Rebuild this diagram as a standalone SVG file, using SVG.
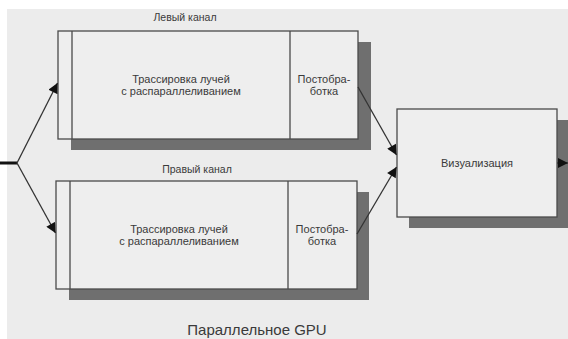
<svg xmlns="http://www.w3.org/2000/svg" width="568" height="339" viewBox="0 0 568 339">
<defs>
<style>
.bg{fill:#ececec}
.shadow{fill:#6f6f6f}
.box{fill:#eeeeee;stroke:#4a4a4a;stroke-width:1.3}
.div{stroke:#4a4a4a;stroke-width:1.3}
.lbl{font-family:"Liberation Sans",Arial,sans-serif;font-size:11px;fill:#3a3a3a;text-anchor:middle}
.small{font-family:"Liberation Sans",Arial,sans-serif;font-size:10.5px;fill:#3a3a3a;text-anchor:middle}
.title{font-family:"Liberation Sans",Arial,sans-serif;font-size:15px;fill:#3a3a3a;text-anchor:middle}
.conn{stroke:#333;stroke-width:1.3;fill:none}
</style>
<marker id="ah" viewBox="0 0 10 10" refX="10" refY="5" markerWidth="11" markerHeight="10" markerUnits="userSpaceOnUse" orient="auto">
<path d="M0,0 L10,5 L0,10 z" fill="#111"/>
</marker>
</defs>
<rect x="0" y="0" width="568" height="339" fill="#ffffff"/>
<rect class="bg" x="7" y="9" width="561" height="330"/>

<g id="left-channel">
<rect class="shadow" x="71" y="42" width="300" height="108"/>
<rect class="box" x="58" y="31" width="300" height="108"/>
<line class="div" x1="72" y1="31" x2="72" y2="139"/>
<line class="div" x1="290" y1="31" x2="290" y2="139"/>
<text class="small" x="185" y="21">Левый канал</text>
<text class="lbl" x="181" y="83">Трассировка лучей</text>
<text class="lbl" x="181" y="95">с распараллеливанием</text>
<text class="lbl" x="324" y="83">Постобра-</text>
<text class="lbl" x="324" y="95">ботка</text>
</g>

<g id="right-channel">
<rect class="shadow" x="69" y="192" width="300" height="108"/>
<rect class="box" x="56" y="181" width="301" height="108"/>
<line class="div" x1="70" y1="181" x2="70" y2="289"/>
<line class="div" x1="288" y1="181" x2="288" y2="289"/>
<text class="small" x="197" y="173">Правый канал</text>
<text class="lbl" x="179" y="233">Трассировка лучей</text>
<text class="lbl" x="179" y="245">с распараллеливанием</text>
<text class="lbl" x="322" y="233">Постобра-</text>
<text class="lbl" x="322" y="245">ботка</text>
</g>

<g id="visualization">
<rect class="shadow" x="409" y="120" width="160" height="108"/>
<rect class="box" x="397" y="109" width="160" height="108"/>
<text class="lbl" x="477" y="167">Визуализация</text>
</g>

<g id="connectors">
<line x1="0" y1="163" x2="17" y2="163" stroke="#111" stroke-width="3"/>
<line class="conn" x1="17" y1="163" x2="57.5" y2="83" marker-end="url(#ah)"/>
<line class="conn" x1="17" y1="163" x2="55.5" y2="233" marker-end="url(#ah)"/>
<line class="conn" x1="358" y1="87" x2="396.5" y2="155" marker-end="url(#ah)"/>
<line class="conn" x1="357" y1="234" x2="396.5" y2="167" marker-end="url(#ah)"/>
<line class="conn" x1="557" y1="163" x2="568" y2="163" marker-end="url(#ah)"/>
</g>

<text class="title" x="257" y="335">Параллельное GPU</text>
</svg>
